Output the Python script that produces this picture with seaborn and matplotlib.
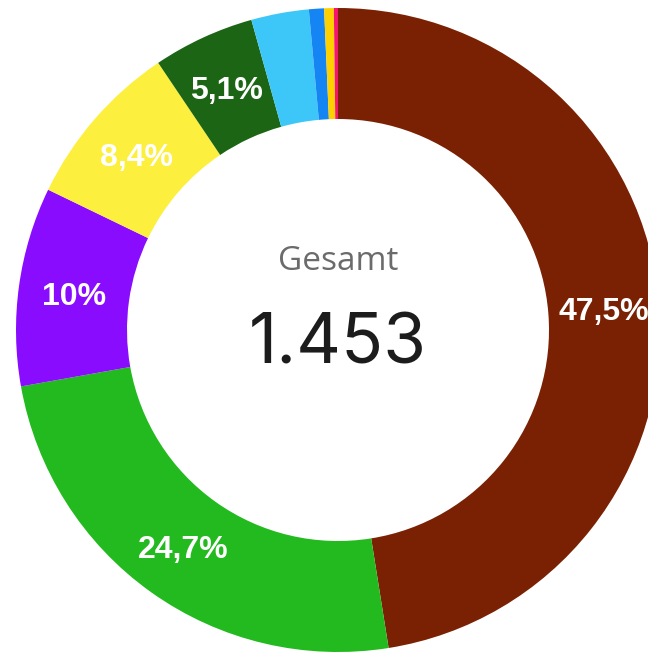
import matplotlib
matplotlib.use("Agg")
import matplotlib.pyplot as plt
import seaborn as sns

# data (counts, total 1.453)
categories = ["A", "B", "C", "D", "E", "F", "G", "H", "I"]
counts = [690, 359, 145, 122, 74, 42, 11, 7, 3]
colors = ["#7A2104", "#22BA1E", "#8A0CFF", "#FCEF3D", "#1B6515",
          "#3DC7F9", "#1485F2", "#FFD000", "#F5146F"]
total_label = "Gesamt"
total_value = "1.453"

sns.set_theme(style="white")
palette = sns.color_palette(colors)

W, H = 648, 654
fig = plt.figure(figsize=(W / 100, H / 100), dpi=100)
ax = fig.add_axes([0, 0, 1, 1])

# ring geometry in pixel units
cx, cy = 338, H - 330
R = 322
ring = 111


def fmt_pct(p):
    if p < 5:
        return ""
    s = f"{p:.1f}".replace(".", ",")
    if s.endswith(",0"):
        s = s[:-2]
    return s + "%"


wedges, texts, autotexts = ax.pie(
    counts, colors=palette, startangle=90, counterclock=False,
    center=(cx, cy), radius=R, autopct=fmt_pct,
    pctdistance=1 - (ring / 2) / R,
    wedgeprops=dict(width=ring, linewidth=0),
)
for t in autotexts:
    t.set_color("white")
    t.set_fontsize(23)
    t.set_fontweight("bold")
    t.set_family("Liberation Sans")
    x, y = t.get_position()
    t.set_position((x, y - 3))

ax.text(cx, H - 262, total_label, ha="center", va="center",
        fontsize=24, color="#6b6b6b", family="Open Sans")
ax.text(cx, H - 345, total_value, ha="center", va="center",
        fontsize=50, color="#1c1c1c", family="Inter")

ax.set_xlim(0, W)
ax.set_ylim(0, H)
ax.set_aspect("equal")
ax.axis("off")

fig.savefig("out.png", dpi=100)
